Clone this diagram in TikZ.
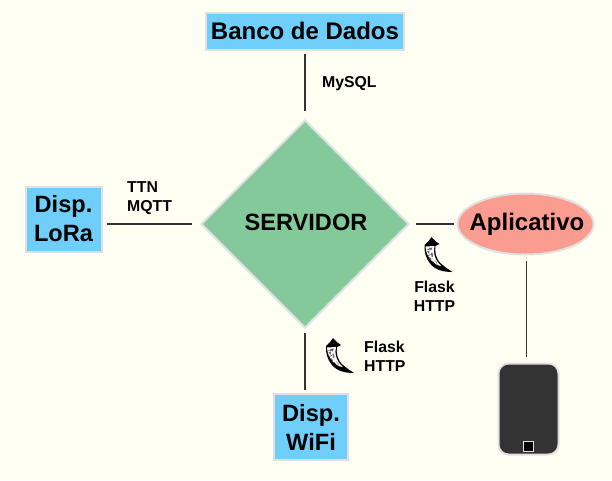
\documentclass[tikz,border=0pt]{standalone}
\usepackage{fontspec}
\setmainfont{Liberation Sans}
\usetikzlibrary{shapes.geometric}
\definecolor{bgc}{HTML}{FFFFF3}
\definecolor{bluec}{HTML}{6FCEFA}
\definecolor{greenc}{HTML}{84C99A}
\definecolor{redc}{HTML}{FA9C8F}
\definecolor{edgec}{HTML}{E0E0E0}
\definecolor{linec}{HTML}{333333}
\tikzset{
  box/.style={draw=edgec,line width=2pt,fill=bluec,inner sep=0pt,align=center,font=\fontsize{23.6}{29}\selectfont\bfseries,text=black},
  lbl/.style={inner sep=0pt,align=left,font=\fontsize{15.8}{19.5}\selectfont\bfseries,text=black},
  conn/.style={draw=linec,line width=1.9pt},
  horn/.pic={
    \fill[black] (0,0) .. controls (2,3) and (5,5) .. (8,7)
      .. controls (6,8) and (5,8.5) .. (4,9) .. controls (3,14) and (4,22) .. (10,27)
      .. controls (14,30.5) and (18,33) .. (21,35)
      .. controls (12,35) and (4,33) .. (-1,27)
      .. controls (-6,21) and (-7.5,14) .. (-7,8)
      .. controls (-4,6) and (-2,3) .. (0,0) -- cycle;
    \fill[white] (-6,9.5) -- (3,9) .. controls (1.5,14) and (2.5,23) .. (10,29)
      .. controls (4,29) and (-5.5,21) .. (-6,9.5) -- cycle;
    \fill[black!60] (-3,11) -- (1,10.5) -- (-0.5,13.5) -- cycle
      (-4.5,14) -- (-2,13.5) -- (-2.5,17) -- cycle
      (-0.5,16) -- (1,15.5) -- (1.5,20) -- (0,19.5) -- cycle
      (-2.5,20) -- (-0.5,21) -- (0,24) -- cycle
      (3,23) -- (5,25) -- (6,28) -- cycle;
    \draw[black,line width=.4pt] (-5,12) -- (-2,12.5) (-3.5,18.5) -- (-1,17.5) (1,24) -- (3,27);
  }
}
\begin{document}
\begin{tikzpicture}[x=1pt,y=-1pt]
\fill[bgc] (0,0) rectangle (612,480);
\useasboundingbox (0,0) rectangle (612,480);
\node[diamond,aspect=1,draw=edgec,line width=2pt,fill=greenc,minimum width=208pt,minimum height=208pt,inner sep=0pt] (server) at (305,224) {};
\node[font=\fontsize{23.6}{28}\selectfont\bfseries,inner sep=0pt] (servertext) at (306,222) {SERVIDOR};
\node[box,minimum width=198pt,minimum height=37pt,font=\fontsize{24}{29}\selectfont\bfseries] (banco) at (305,31) {Banco de Dados};
\node[box,minimum width=76pt,minimum height=65pt] (lora) at (63.5,219) {Disp.\\LoRa};
\node[box,minimum width=74pt,minimum height=66pt] (wifi) at (311,427) {Disp.\\WiFi};
\node[ellipse,draw=edgec,line width=2pt,fill=redc,minimum width=136pt,minimum height=61pt,inner sep=0pt] (app) at (525.5,224) {};
\node[font=\fontsize{24}{29}\selectfont\bfseries,inner sep=0pt] (apptext) at (527,224) {Aplicativo};
\node[rectangle,rounded corners=10pt,draw=edgec,line width=2pt,fill=linec,minimum width=60pt,minimum height=91pt,inner sep=0pt] (phone) at (528.5,409) {};
\node[rectangle,draw=edgec,line width=1pt,fill=black,minimum width=10pt,minimum height=10pt,inner sep=0pt] (home) at (528.5,446.5) {};
\coordinate (appout) at ([xshift=1pt]app.south);
\draw[conn,shorten <=3pt,shorten >=8pt] (banco.south) -- (banco.south|-server.north);
\draw[conn,shorten <=4pt,shorten >=8pt] (lora.east|-server.west) -- (server.west);
\draw[conn,shorten <=6pt,shorten >=3pt] (server.east) -- (app.west);
\draw[conn,shorten <=4pt,shorten >=3pt] (server.south) -- (server.south|-wifi.north);
\draw[conn,shorten <=5pt,shorten >=6pt] (appout) -- (appout|-phone.north);
\node[lbl,anchor=west] (mysql) at (322,83.5) {MySQL};
\node[lbl,anchor=north west] (ttn) at (127,181) {TTN\\MQTT};
\node[lbl,anchor=north,align=center] (f1) at (434.5,280.5) {Flask\\HTTP};
\node[lbl,anchor=north west] (f2) at (364,340.5) {Flask\\HTTP};
\pic at (431.5,237) {horn};
\pic at (333,338) {horn};
\end{tikzpicture}
\end{document}
